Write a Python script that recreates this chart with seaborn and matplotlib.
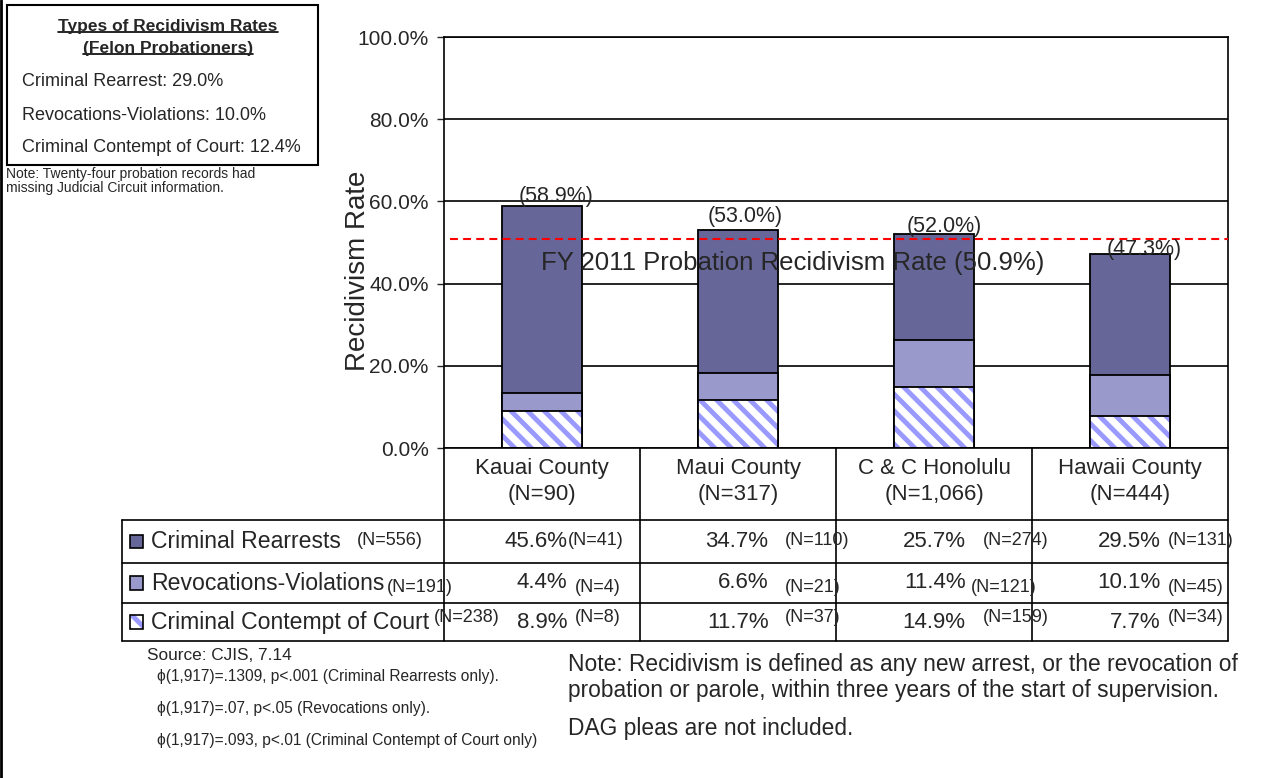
import numpy as np
import pandas as pd
import matplotlib
matplotlib.use("Agg")
import matplotlib.pyplot as plt
from matplotlib.patches import Rectangle
from matplotlib.lines import Line2D
import seaborn as sns

# recidivism by judicial circuit, felon probationers (CJIS 7.14)
counties = ["Kauai County", "Maui County", "C & C Honolulu", "Hawaii County"]
county_n = ["(N=90)", "(N=317)", "(N=1,066)", "(N=444)"]
rearrest_pct = [45.6, 34.7, 25.7, 29.5]
revoc_pct = [4.4, 6.6, 11.4, 10.1]
contempt_pct = [8.9, 11.7, 14.9, 7.7]
rearrest_n = [41, 110, 274, 131]
revoc_n = [4, 21, 121, 45]
contempt_n = [8, 37, 159, 34]

type_names = ["Criminal Rearrests", "Revocations-Violations", "Criminal Contempt of Court"]
type_n = [556, 191, 238]
box_names = ["Criminal Rearrest", "Revocations-Violations", "Criminal Contempt of Court"]
box_rates = [29.0, 10.0, 12.4]
overall_rate = 50.9

sns.set_style("white")
plt.rcParams["font.family"] = ["Liberation Sans", "DejaVu Sans"]
plt.rcParams["hatch.linewidth"] = 3.5

dark = "#666699"
light = "#9999cc"
hatch_blue = "#9999ff"

W, H = 1261, 778
fx = lambda px: px / W
fy = lambda py: 1 - py / H

df = pd.DataFrame({
    "label": [f"{c}\n{n}" for c, n in zip(counties, county_n)],
    "contempt": contempt_pct,
    "revoc": revoc_pct,
    "rearrest": rearrest_pct,
})
df["mid"] = df["contempt"] + df["revoc"]
df["total"] = df["mid"] + df["rearrest"]

fig = plt.figure(figsize=(W / 100, H / 100), dpi=100)
ax = fig.add_axes([fx(444), fy(448), 784 / W, 411 / H])

common = dict(data=df, x="label", errorbar=None, width=0.41, saturation=1, ax=ax)
sns.barplot(y="total", color=dark, edgecolor="black", linewidth=1.3, zorder=2, **common)
sns.barplot(y="mid", color=light, edgecolor="black", linewidth=1.3, zorder=2, **common)
sns.barplot(y="contempt", color="white", edgecolor=hatch_blue, hatch="\\\\", linewidth=0, zorder=2, **common)
sns.barplot(y="contempt", fill=False, color="black", linewidth=1.3, zorder=2, **common)

ax.set_ylim(0, 100)
ax.set_xlim(-0.5, 3.5)
ax.set_yticks(range(0, 101, 20))
ax.set_yticklabels([f"{v:.1f}%" for v in range(0, 101, 20)])
ax.tick_params(axis="y", direction="out", length=5, width=1, pad=6, labelsize=15, left=True)
ax.tick_params(axis="x", length=0, pad=7, labelsize=16)
for lab in ax.get_xticklabels():
    lab.set_linespacing(1.35)
ax.yaxis.grid(True, color="black", linewidth=1.2)
ax.set_axisbelow(True)
for s in ax.spines.values():
    s.set_color("black")
    s.set_linewidth(1.2)
ax.set_xlabel("")
ax.set_ylabel("Recidivism Rate", fontsize=20)
ax.yaxis.set_label_coords(-0.093, 0.43)

# state-wide reference line
ax.axhline(overall_rate, xmin=0.008, xmax=1, color="red", linestyle=(0, (3.8, 2.5)),
           linewidth=1.5, zorder=4)
ax.text(1.28, 45.0, f"FY 2011 Probation Recidivism Rate ({overall_rate}%)",
        ha="center", va="center", fontsize=18.5, zorder=5)

# total labels above bars
label_dx = [0.071, 0.036, 0.05, 0.074]
label_dy = [2.2, 3.4, 1.8, 0.9]
for i, tot in enumerate(df["total"]):
    ax.text(i + label_dx[i], tot + label_dy[i], f"({tot:.1f}%)", ha="center",
            va="center", fontsize=15.5, zorder=5)

# data table under the chart
trans = ax.get_xaxis_transform()
py = lambda p: (448 - p) / 411
x_left = -0.5 + (122 - 444) / 196
px_data = lambda p: -0.5 + (p - 444) / 196
row_lines = [py(520), py(563), py(603), py(641)]
kw = dict(transform=trans, clip_on=False, color="black", linewidth=1.2)
for y in row_lines:
    ax.plot([x_left, 3.5], [y, y], **kw)
ax.plot([x_left, x_left], [row_lines[0], row_lines[-1]], **kw)
for x in [-0.5, 0.5, 1.5, 2.5, 3.5]:
    ax.plot([x, x], [0, row_lines[-1]], **kw)

row_y = [py(541.5), py(583), py(622)]
row_n_shift = [0.003, -0.012, 0.012]
n_label_x = [357, 387, 434]
swatches = [dict(facecolor=dark), dict(facecolor=light),
            dict(facecolor="white", hatch="\\\\", edgecolor=hatch_blue)]
for r in range(3):
    ax.add_patch(Rectangle((px_data(130), row_y[r] - 0.016), 13 / 196, 0.032,
                           transform=trans, clip_on=False, linewidth=0, **swatches[r]))
    ax.add_patch(Rectangle((px_data(130), row_y[r] - 0.016), 13 / 196, 0.032,
                           transform=trans, clip_on=False, facecolor="none",
                           edgecolor="black", linewidth=1.2))
    ax.text(px_data(151), row_y[r], type_names[r], transform=trans, ha="left",
            va="center", fontsize=16.6)
    ax.text(px_data(n_label_x[r]), row_y[r] + row_n_shift[r], f"(N={type_n[r]})",
            transform=trans, ha="left", va="center", fontsize=13)

pct_rows = [rearrest_pct, revoc_pct, contempt_pct]
n_rows = [rearrest_n, revoc_n, contempt_n]
pct_right = [0.13, 0.156, 0.161, 0.156]
n_left = [[0.13, 0.237, 0.247, 0.191],
          [0.167, 0.237, 0.186, 0.191],
          [0.167, 0.237, 0.247, 0.191]]
for r in range(3):
    for i in range(4):
        ax.text(i + pct_right[i], row_y[r], f"{pct_rows[r][i]:.1f}%", transform=trans,
                ha="right", va="center", fontsize=16)
        ax.text(i + n_left[r][i], row_y[r] + row_n_shift[r], f"(N={n_rows[r][i]})",
                transform=trans, ha="left", va="center", fontsize=13)

# notes under the table
fig.text(fx(147), fy(656), "Source: CJIS, 7.14", ha="left", va="center", fontsize=12.4)
phi_lines = ["\u03d5(1,917)=.1309, p<.001 (Criminal Rearrests only).",
             "\u03d5(1,917)=.07, p<.05 (Revocations only).",
             "\u03d5(1,917)=.093, p<.01 (Criminal Contempt of Court only)"]
for t, y in zip(phi_lines, [677, 708, 740]):
    fig.text(fx(157), fy(y), t, ha="left", va="center", fontsize=11.2)
note_lines = ["Note: Recidivism is defined as any new arrest, or the revocation of",
              "probation or parole, within three years of the start of supervision.",
              "DAG pleas are not included."]
for t, y in zip(note_lines, [664, 690, 728]):
    fig.text(fx(568), fy(y), t, ha="left", va="center", fontsize=16.4)

# summary box, top left
fig.add_artist(Rectangle((fx(7), fy(165)), 311 / W, 160 / H, transform=fig.transFigure,
                         facecolor="none", edgecolor="black", linewidth=1.5))
titles = []
for t, y in zip(["Types of Recidivism Rates", "(Felon Probationers)"], [26, 48]):
    titles.append(fig.text(fx(168), fy(y), t, ha="center", va="center",
                           fontsize=12.5, fontweight="bold"))
for name, rate, y in zip(box_names, box_rates, [81, 115, 148]):
    fig.text(fx(22), fy(y), f"{name}: {rate:.1f}%", ha="left", va="center", fontsize=13)
fig.text(fx(6), fy(174), "Note: Twenty-four probation records had", ha="left",
         va="center", fontsize=10)
fig.text(fx(6), fy(188), "missing Judicial Circuit information.", ha="left",
         va="center", fontsize=10)

# left page border
fig.add_artist(Line2D([fx(1.5), fx(1.5)], [0, 1], transform=fig.transFigure,
                      color="black", linewidth=2))

fig.canvas.draw()
renderer = fig.canvas.get_renderer()
for t in titles:
    bb = t.get_window_extent(renderer).transformed(fig.transFigure.inverted())
    fig.add_artist(Line2D([bb.x0, bb.x1], [bb.y0 + 0.002, bb.y0 + 0.002],
                          transform=fig.transFigure, color="black", linewidth=1.2))

fig.savefig("out.png", dpi=100)
